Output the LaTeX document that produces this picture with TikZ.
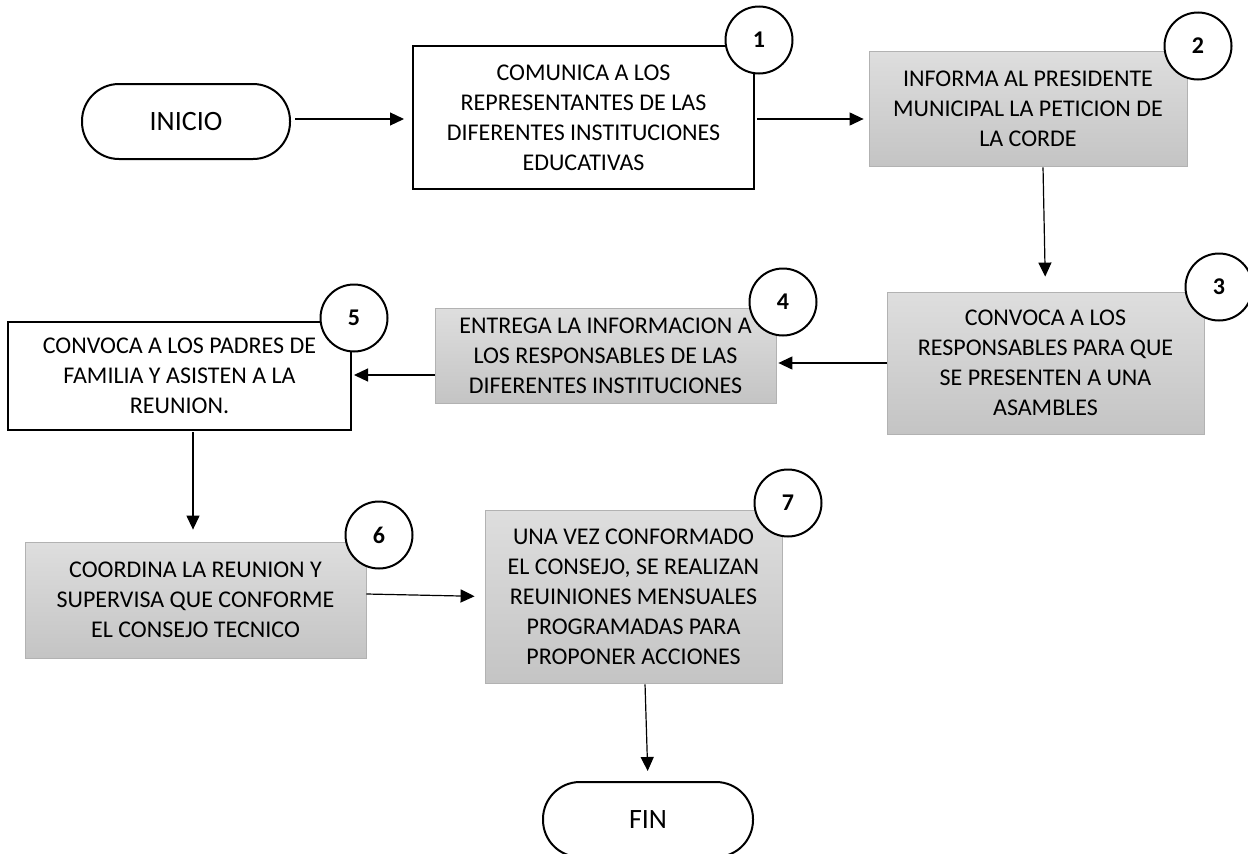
\documentclass[tikz,border=0pt]{standalone}
\usepackage{fontspec}
\setmainfont{Carlito}
\usepackage{tikz}
\usetikzlibrary{arrows.meta}
\definecolor{grisclaro}{RGB}{222,222,222}
\definecolor{grisoscuro}{RGB}{196,196,196}
\definecolor{grisborde}{RGB}{178,178,178}
\tikzset{
  paso/.style={
    draw=black, line width=2pt, fill=white, align=center,
    font=\fontsize{24}{30}\selectfont, inner sep=0pt
  },
  pasogris/.style={
    paso, draw=grisborde, line width=0.8pt,
    top color=grisclaro, bottom color=grisoscuro
  },
  terminal/.style={
    draw=black, line width=2pt, rounded corners=37pt, fill=white,
    minimum width=208pt, minimum height=75pt,
    font=\fontsize{28}{34}\selectfont
  },
  num/.style={
    circle, draw=black, line width=2pt, fill=white, minimum size=67pt,
    inner sep=0pt, font=\fontsize{24}{28}\selectfont\bfseries
  },
  flecha/.style={-{Triangle[length=14pt, width=13pt]}, line width=1.2pt}
}

\begin{document}
\begin{tikzpicture}[x=1pt, y=-1pt]
  \useasboundingbox (0,0) rectangle (1248,854);
  \node[terminal] (inicio) at (186,121.5) {INICIO};
  \node[paso, minimum width=341pt, minimum height=143pt] (paso1) at (583.5,117.5)
    {COMUNICA A LOS\\REPRESENTANTES DE LAS\\DIFERENTES INSTITUCIONES\\EDUCATIVAS};
  \node[pasogris, minimum width=318pt, minimum height=115pt] (paso2) at (1028,108.5)
    {INFORMA AL PRESIDENTE\\MUNICIPAL LA PETICION DE\\LA CORDE};
  \node[pasogris, minimum width=317pt, minimum height=142pt] (paso3) at (1045.5,363)
    {CONVOCA A LOS\\RESPONSABLES PARA QUE\\SE PRESENTEN A UNA\\ASAMBLES};
  \node[pasogris, minimum width=341pt, minimum height=95pt] (paso4) at (605.5,355.5)
    {ENTREGA LA INFORMACION A\\LOS RESPONSABLES DE LAS\\DIFERENTES INSTITUCIONES};
  \node[paso, minimum width=343pt, minimum height=108pt] (paso5) at (179.5,376)
    {CONVOCA A LOS PADRES DE\\FAMILIA Y ASISTEN A LA\\REUNION.};
  \node[pasogris, minimum width=341pt, minimum height=116pt] (paso6) at (195.5,600)
    {COORDINA LA REUNION Y\\SUPERVISA QUE CONFORME\\EL CONSEJO TECNICO};
  \node[pasogris, minimum width=297pt, minimum height=173pt] (paso7) at (633.5,596.5)
    {UNA VEZ CONFORMADO\\EL CONSEJO, SE REALIZAN\\REUINIONES MENSUALES\\PROGRAMADAS PARA\\PROPONER ACCIONES};
  \node[terminal, minimum width=210pt] (fin) at (648,819.5) {FIN};
  \foreach \n/\x/\y in {1/759/40, 2/1198/46, 3/1219/287, 4/783/302, 5/354/318, 6/379/535, 7/788/503}
    \node[num] (num\n) at (\x,\y) {\n};
  \draw[flecha, shorten <=4pt, shorten >=8pt] ([yshift=2.5pt]inicio.east) -- ([yshift=2.5pt]inicio.east -| paso1.west);
  \draw[flecha, shorten <=2pt, shorten >=5pt] ([yshift=-1.5pt]paso1.east) -- ([yshift=-1.5pt]paso1.east -| paso2.west);
  \draw[flecha, shorten <=1pt, shorten >=15pt] ([xshift=15pt]paso2.south) -- ([xshift=0pt]paso3.north);
  \draw[flecha, shorten >=2pt] (paso3.west) -- (paso3.west -| paso4.east);
  \draw[flecha, shorten >=2pt] ([yshift=-19.5pt]paso4.west) -- ([yshift=-19.5pt]paso4.west -| paso5.east);
  \draw[flecha, shorten <=1pt, shorten >=12pt] ([xshift=13.5pt]paso5.south) -- ([xshift=13.5pt]paso5.south |- paso6.north);
  \draw[flecha, shorten >=10pt] ([yshift=6pt]paso6.east) -- (paso7.west);
  \draw[flecha, shorten <=1pt, shorten >=10pt] ([xshift=11.5pt]paso7.south) -- (fin.north);
\end{tikzpicture}
\end{document}
